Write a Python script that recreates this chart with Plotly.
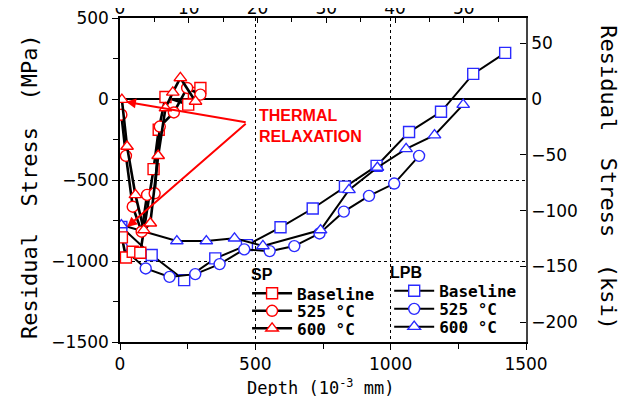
import plotly.graph_objects as go

# ---------------- data ----------------
sp_base_depth = [7, 22, 47, 75, 124, 143, 168, 252, 273, 297]
sp_base_stress = [-854, -978, -943, -949, -433, -190, 12, -35, 37, 68]

sp_525_depth = [5, 22, 47, 80, 100, 128, 147, 199, 248, 297]
sp_525_stress = [-97, -351, -665, -819, -592, -582, -170, -83, 68, 27]

sp_600_depth = [7, 26, 57, 88, 112, 141, 168, 195, 223, 279]
sp_600_stress = [-4, -293, -592, -809, -767, -350, -56, 41, 130, -15]

lpb_base_depth = [5, 117, 237, 352, 469, 593, 712, 831, 948, 1068, 1186, 1305, 1423]
lpb_base_stress = [-790, -963, -1118, -984, -902, -792, -676, -541, -413, -204, -79, 155, 285]

lpb_525_depth = [7, 95, 183, 278, 368, 459, 553, 644, 737, 827, 920, 1013, 1105]
lpb_525_stress = [-915, -1046, -1098, -1081, -1019, -928, -939, -908, -830, -695, -598, -522, -351]

lpb_600_depth = [5, 210, 319, 423, 528, 741, 846, 951, 1057, 1162, 1268]
lpb_600_stress = [-778, -877, -877, -860, -907, -809, -561, -423, -308, -223, -35]

series_names = ["Baseline", "525 °C", "600 °C"]
y_ticks_mpa = [-1500, -1000, -500, 0, 500]
y_ticks_ksi = [-200, -150, -100, -50, 0, 50]
x_ticks_top = [0, 10, 20, 30, 40, 50]

MPA_PER_KSI = 6.894757
UM_PER_MIL = 25.4

RED = "#ff0000"
BLUE = "#2a2aff"
MONO = "DejaVu Sans Mono"
SANS = "DejaVu Sans"

fig = go.Figure()

sp_sets = [(sp_base_depth, sp_base_stress, "square"),
           (sp_525_depth, sp_525_stress, "circle"),
           (sp_600_depth, sp_600_stress, "triangle-up")]
lpb_sets = [(lpb_base_depth, lpb_base_stress, "square"),
            (lpb_525_depth, lpb_525_stress, "circle"),
            (lpb_600_depth, lpb_600_stress, "triangle-up")]

sp_legends = ["legend", "legend3", "legend4"]
lpb_legends = ["legend2", "legend5", "legend6"]

for (d, s, sym), name, lg in zip(lpb_sets, series_names, lpb_legends):
    fig.add_trace(go.Scatter(
        x=d, y=s, mode="lines+markers", name=name, legend=lg,
        line=dict(color="black", width=2),
        marker=dict(symbol=sym, size=11, color="white",
                    line=dict(color=BLUE, width=1.4)),
    ))

for (d, s, sym), name, lg in zip(sp_sets, series_names, sp_legends):
    fig.add_trace(go.Scatter(
        x=d, y=s, mode="lines+markers", name=name, legend=lg,
        line=dict(color="black", width=2.6),
        marker=dict(symbol=sym, size=11, color="white",
                    line=dict(color=RED, width=1.4)),
    ))

# invisible trace for secondary axes
fig.add_trace(go.Scatter(x=[0], y=[0], xaxis="x2", yaxis="y2", mode="markers",
                         marker=dict(opacity=0), showlegend=False, hoverinfo="skip"))


def legend_box(x, y):
    return dict(x=x, y=y, xanchor="left", yanchor="middle",
                bgcolor="rgba(0,0,0,0)", borderwidth=0,
                font=dict(family=MONO, size=16, color="black", weight="bold"),
                tracegroupgap=0, itemwidth=40)


fig.update_layout(
    width=630, height=388,
    margin=dict(l=112, r=112, t=10, b=54),
    paper_bgcolor="white", plot_bgcolor="white",
    showlegend=True,
    xaxis=dict(
        range=[0, 1500], tickvals=[0, 500, 1000, 1500], automargin=False,
        ticklabeloverflow="allow",
        ticks="outside", ticklen=6, tickcolor="black", tickwidth=1,
        minor=dict(dtick=250, ticks="outside", ticklen=5, tickcolor="black", showgrid=False),
        showline=True, linecolor="black", linewidth=1.5,
        showgrid=True, gridcolor="black", griddash="dot", gridwidth=1,
        zeroline=False,
        tickfont=dict(family=SANS, size=17, color="black"),
    ),
    yaxis=dict(
        range=[-1500, 500], tickvals=y_ticks_mpa, automargin=False,
        ticklabeloverflow="allow",
        ticks="outside", ticklen=6, tickcolor="black", tickwidth=1,
        minor=dict(dtick=250, ticks="outside", ticklen=5, tickcolor="black", showgrid=False),
        showline=True, linecolor="black", linewidth=1.5,
        showgrid=True, gridcolor="black", griddash="dot", gridwidth=1,
        zeroline=True, zerolinecolor="black", zerolinewidth=2,
        tickfont=dict(family=SANS, size=17, color="black"),
    ),
    xaxis2=dict(
        overlaying="x", side="top", anchor="y", automargin=False,
        ticklabeloverflow="allow", ticklabelstandoff=-5,
        range=[0, 1500 / UM_PER_MIL], tickvals=x_ticks_top,
        ticks="inside", ticklen=5, tickcolor="black",
        minor=dict(dtick=5, ticks="inside", ticklen=4, tickcolor="black", showgrid=False),
        showline=True, linecolor="black", linewidth=1.5,
        showgrid=False, zeroline=False,
        tickfont=dict(family=SANS, size=17, color="black"),
    ),
    yaxis2=dict(
        overlaying="y", side="right", anchor="x", automargin=False,
        ticklabeloverflow="allow",
        range=[-1500 / MPA_PER_KSI, 500 / MPA_PER_KSI], autorange=False,
        tickvals=y_ticks_ksi,
        ticks="inside", ticklen=6, tickcolor="black",
        showline=True, linecolor="#444444", linewidth=1.5,
        showgrid=False, zeroline=False,
        tickfont=dict(family=SANS, size=17, color="black"),
    ),
    legend=legend_box(0.313, 0.150),
    legend3=legend_box(0.313, 0.096),
    legend4=legend_box(0.313, 0.042),
    legend2=legend_box(0.663, 0.158),
    legend5=legend_box(0.663, 0.102),
    legend6=legend_box(0.663, 0.047),
)

# Legend group headings
fig.add_annotation(xref="paper", yref="paper", x=0.35, y=0.207, text="<b>SP</b>",
                   showarrow=False, font=dict(family="Liberation Sans", size=16, color="black"),
                   xanchor="center", yanchor="middle")
fig.add_annotation(xref="paper", yref="paper", x=0.704, y=0.216, text="<b>LPB</b>",
                   showarrow=False, font=dict(family="Liberation Sans", size=16, color="black"),
                   xanchor="center", yanchor="middle")

# Axis titles as annotations
fig.add_annotation(xref="paper", yref="paper", x=-0.223, y=0.48,
                   text="Residual\u00a0\u00a0Stress\u00a0\u00a0(MPa)", textangle=-90,
                   showarrow=False, font=dict(family=MONO, size=22, color="black"),
                   xanchor="center", yanchor="middle")
fig.add_annotation(xref="paper", yref="paper", x=1.204, y=0.506,
                   text="Residual\u00a0\u00a0Stress\u00a0\u00a0(ksi)", textangle=90,
                   showarrow=False, font=dict(family=MONO, size=22, color="black"),
                   xanchor="center", yanchor="middle")
fig.add_annotation(xref="paper", yref="paper", x=0.495, y=-0.139,
                   text="Depth (10<sup>-3</sup> mm)",
                   showarrow=False, font=dict(family=MONO, size=17, color="black"),
                   xanchor="center", yanchor="middle")

# Thermal relaxation label and arrows
fig.add_annotation(x=505, y=-165, xref="x", yref="y",
                   text="<b>THERMAL<br>RELAXATION</b>", align="left",
                   showarrow=False, xanchor="left", yanchor="middle",
                   font=dict(family="Liberation Sans", size=16, color=RED))
for hx, hy in [(22, -17), (26, -790)]:
    fig.add_annotation(x=hx, y=hy, xref="x", yref="y", ax=470, ay=-145,
                       axref="x", ayref="y", text="", showarrow=True,
                       arrowhead=2, arrowsize=1, arrowwidth=2, arrowcolor=RED,
                       standoff=0, startstandoff=0)

fig.write_html("out.html")
